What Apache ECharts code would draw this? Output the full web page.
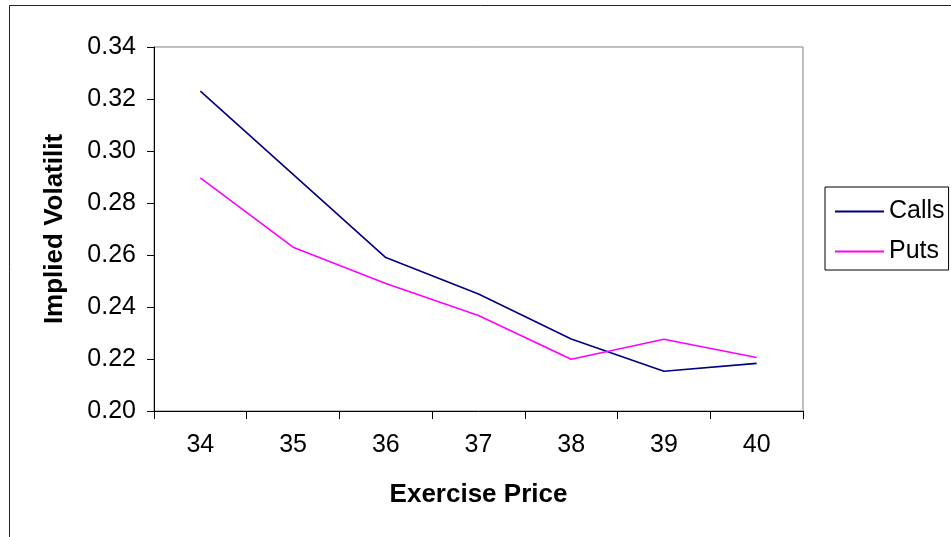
<!DOCTYPE html>
<html>
<head>
<meta charset="utf-8">
<script src="https://cdn.jsdelivr.net/npm/echarts@6/dist/echarts.min.js"></script>
<style>
html,body{margin:0;padding:0;background:#fff;}
#chart{width:951px;height:537px;}
</style>
</head>
<body>
<div id="chart"></div>
<script>
const categories = ['34', '35', '36', '37', '38', '39', '40'];
const calls = [0.323, 0.291, 0.259, 0.245, 0.2277, 0.2153, 0.2183];
const puts = [0.2897, 0.263, 0.249, 0.2367, 0.2199, 0.2276, 0.2206];
const yTicks = { min: 0.20, max: 0.34, interval: 0.02 };

const FONT = '"Liberation Sans", Arial, sans-serif';
const chart = echarts.init(document.getElementById('chart'), null, { renderer: 'canvas' });
chart.setOption({
  animation: false,
  backgroundColor: '#fff',
  graphic: [{
    type: 'rect',
    shape: { x: 9.5, y: 5.5, width: 1100, height: 700 },
    style: { fill: 'none', stroke: '#222', lineWidth: 1 },
    silent: true, z: -1
  }],
  grid: {
    left: 154, top: 47, right: 148, bottom: 126,
    show: true, borderColor: '#808080', borderWidth: 1, backgroundColor: 'transparent'
  },
  legend: {
    orient: 'vertical',
    left: 825, top: 187,
    padding: [12, 4, 6, 10],
    borderColor: '#000', borderWidth: 1,
    itemWidth: 49, itemHeight: 2, itemGap: 15,
    icon: 'rect',
    textStyle: { fontFamily: FONT, fontSize: 25, color: '#000' },
    data: ['Calls', 'Puts']
  },
  xAxis: {
    type: 'category',
    data: categories,
    boundaryGap: true,
    name: 'Exercise Price',
    nameLocation: 'middle',
    nameGap: 71,
    nameTextStyle: { fontFamily: FONT, fontSize: 26, fontWeight: 'bold', color: '#000' },
    axisLine: { lineStyle: { color: '#000', width: 1 } },
    axisTick: { show: true, length: 8, alignWithLabel: false, lineStyle: { color: '#000' } },
    axisLabel: { margin: 22, fontFamily: FONT, fontSize: 25, color: '#000' },
    splitLine: { show: false }
  },
  yAxis: {
    type: 'value',
    min: yTicks.min, max: yTicks.max, interval: yTicks.interval,
    name: 'Implied Volatility',
    nameLocation: 'middle',
    nameRotate: 90,
    nameGap: 86,
    nameTruncate: { maxWidth: 200, ellipsis: '' },
    nameTextStyle: { fontFamily: FONT, fontSize: 26, fontWeight: 'bold', color: '#000' },
    axisLine: { show: true, lineStyle: { color: '#000', width: 1 } },
    axisTick: { show: true, length: 7, lineStyle: { color: '#000' } },
    axisLabel: { margin: 18, fontFamily: FONT, fontSize: 25, color: '#000',
      formatter: v => v.toFixed(2) },
    splitLine: { show: false }
  },
  series: [
    { name: 'Calls', type: 'line', data: calls, showSymbol: false, symbol: 'none',
      color: '#000080', lineStyle: { color: '#000080', width: 1.6 } },
    { name: 'Puts', type: 'line', data: puts, showSymbol: false, symbol: 'none',
      color: '#FF00FF', lineStyle: { color: '#FF00FF', width: 1.6 } }
  ]
});
</script>
</body>
</html>
